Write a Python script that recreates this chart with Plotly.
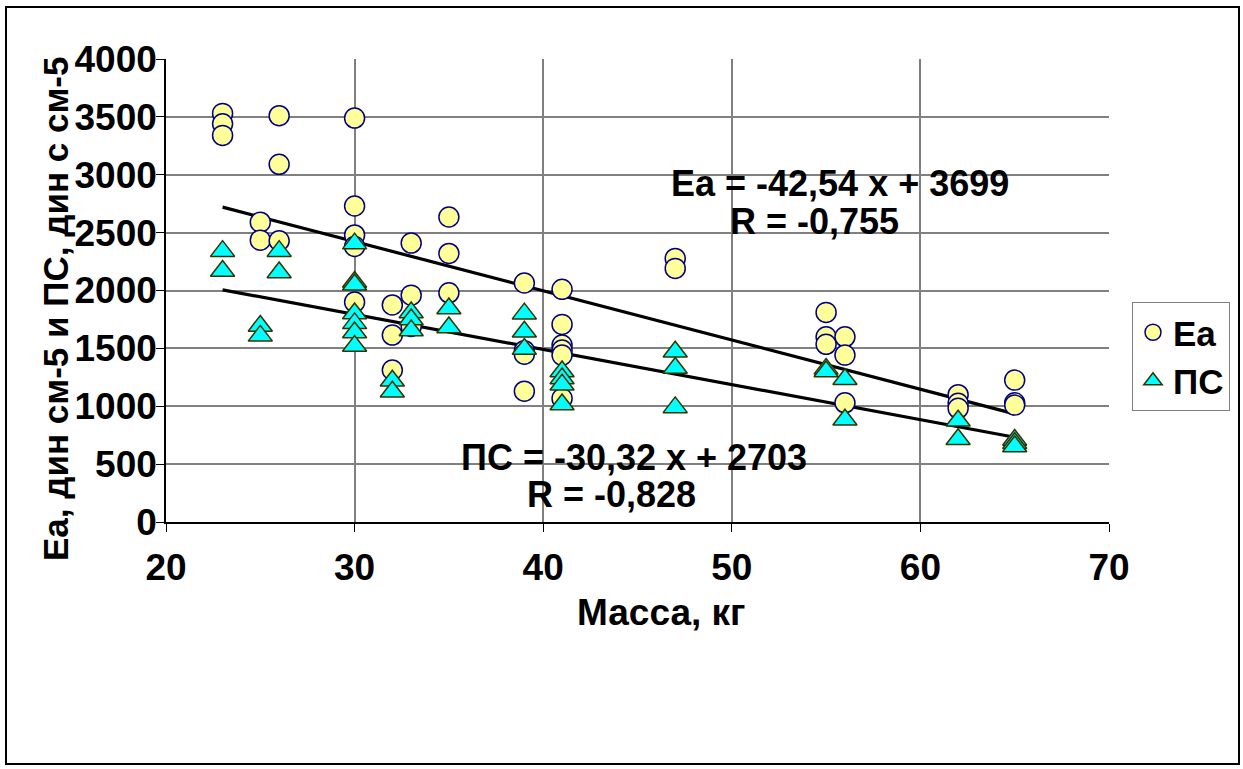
import plotly.graph_objects as go

# ---- data ----
ea_mass = [23, 23, 23, 25, 25, 26, 26, 26, 30, 30, 30, 30, 30, 32, 32, 32,
           33, 33, 33, 35, 35, 35, 39, 39, 39, 39, 41, 41, 41, 41, 41, 41,
           47, 47, 55, 55, 55, 56, 56, 56, 62, 62, 62, 65, 65, 65]
ea_values = [3530, 3440, 3340, 2590, 2435, 3510, 3090, 2430, 3490, 2730, 2480, 2380, 1900,
             1875, 1615, 1313, 2410, 1960, 1690, 2635, 2320, 1980, 2065, 1480, 1450, 1130,
             2010, 1707, 1529, 1485, 1442, 1068, 2277, 2191, 1811, 1600, 1535,
             1600, 1442, 1030, 1100, 1025, 982, 1226, 1030, 1010]

ps_mass = [23, 23, 25, 25, 26, 26, 30, 30, 30, 30, 30, 30, 30, 32, 32,
           33, 33, 33, 35, 35, 39, 39, 39, 41, 41, 41, 41, 47, 47, 47,
           55, 55, 56, 56, 62, 62, 65, 65, 65]
ps_values = [2340, 2168, 1694, 1608, 2340, 2155, 2405, 2073, 2050, 1802, 1716, 1637, 1521,
             1220, 1125, 1810, 1750, 1655, 1845, 1680, 1800, 1643, 1494,
             1300, 1240, 1186, 1015, 1471, 1331, 990, 1323, 1300, 1233, 884,
             875, 715, 708, 680, 652]

# trend equations shown on the chart
ea_slope, ea_intercept = -42.54, 3699
ps_slope, ps_intercept = -30.32, 2703
trend_x = [23, 65]

x_ticks = [20, 30, 40, 50, 60, 70]
y_ticks = [0, 500, 1000, 1500, 2000, 2500, 3000, 3500, 4000]

FONT = "Arial, Liberation Sans, sans-serif"
FS = 37

fig = go.Figure()
fig.add_trace(go.Scatter(
    x=trend_x, y=[ea_slope * v + ea_intercept for v in trend_x],
    mode="lines", line=dict(color="black", width=3.2), showlegend=False, hoverinfo="skip"))
fig.add_trace(go.Scatter(
    x=trend_x, y=[ps_slope * v + ps_intercept for v in trend_x],
    mode="lines", line=dict(color="black", width=3.2), showlegend=False, hoverinfo="skip"))
fig.add_trace(go.Scatter(
    x=ea_mass, y=ea_values, mode="markers", name="Ea",
    marker=dict(symbol="circle", size=20, color="#FFFF99",
                line=dict(color="#000080", width=1.5))))
fig.add_trace(go.Scatter(
    x=ps_mass, y=ps_values, mode="markers", name="ПС",
    marker=dict(symbol="triangle-up", size=21, color="#00FFFF",
                line=dict(color="#333300", width=1.5))))

L, R, T, B = 166, 134, 59, 247
W, H = 1243, 769
pw, ph = W - L - R, H - T - B

def px(xp):
    return (xp - L) / pw

def py(yp):
    return (H - B - yp) / ph

annots = [
    dict(text="Ea = -42,54 x + 3699", x=55.73, y=2925, xref="x", yref="y"),
    dict(text="R = -0,755", x=54.4, y=2600, xref="x", yref="y"),
    dict(text="ПС = -30,32 x + 2703", x=44.8, y=560, xref="x", yref="y"),
    dict(text="R = -0,828", x=43.6, y=235, xref="x", yref="y"),
]
for a in annots:
    fig.add_annotation(**a, showarrow=False, xanchor="center", yanchor="middle",
                       font=dict(family=FONT, size=36, color="black", weight="bold"))

fig.add_annotation(text="Ea, дин см-5 и ПС, дин с см-5", x=px(55), y=py(309),
                   xref="paper", yref="paper", textangle=-90, showarrow=False,
                   xanchor="center", yanchor="middle",
                   font=dict(family=FONT, size=35, color="black", weight="bold"))
fig.add_annotation(text="Масса, кг", x=px(661), y=py(612),
                   xref="paper", yref="paper", showarrow=False,
                   xanchor="center", yanchor="middle",
                   font=dict(family=FONT, size=FS, color="black", weight="bold"))

fig.add_shape(type="rect", xref="paper", yref="paper",
              x0=px(6), x1=px(1239), y0=py(764), y1=py(7),
              line=dict(color="black", width=2), fillcolor="rgba(0,0,0,0)", layer="below")

fig.update_layout(
    width=W, height=H,
    margin=dict(l=L, r=R, t=T, b=B),
    paper_bgcolor="white", plot_bgcolor="white",
    font=dict(family=FONT, size=FS, color="black"),
    legend=dict(x=px(1132), y=py(302), xanchor="left", yanchor="top",
                bgcolor="white", bordercolor="#808080", borderwidth=1,
                font=dict(family=FONT, size=35, color="black", weight="bold"),
                itemsizing="trace", tracegroupgap=0),
    xaxis=dict(range=[20, 70], tickvals=x_ticks, showgrid=True, gridcolor="#808080",
               gridwidth=1.5, showline=True, linecolor="black", linewidth=1.5,
               ticks="outside", ticklen=8, tickcolor="black", zeroline=False,
               ticklabelstandoff=4,
               tickfont=dict(family=FONT, size=FS, color="black", weight="bold")),
    yaxis=dict(range=[0, 4000], tickvals=y_ticks, showgrid=True, gridcolor="#808080",
               gridwidth=1.5, showline=True, linecolor="black", linewidth=1.5,
               ticks="outside", ticklen=8, tickcolor="black", zeroline=False,
               ticklabelstandoff=-8,
               tickfont=dict(family=FONT, size=FS, color="black", weight="bold")),
)

fig.write_html("out.html")
